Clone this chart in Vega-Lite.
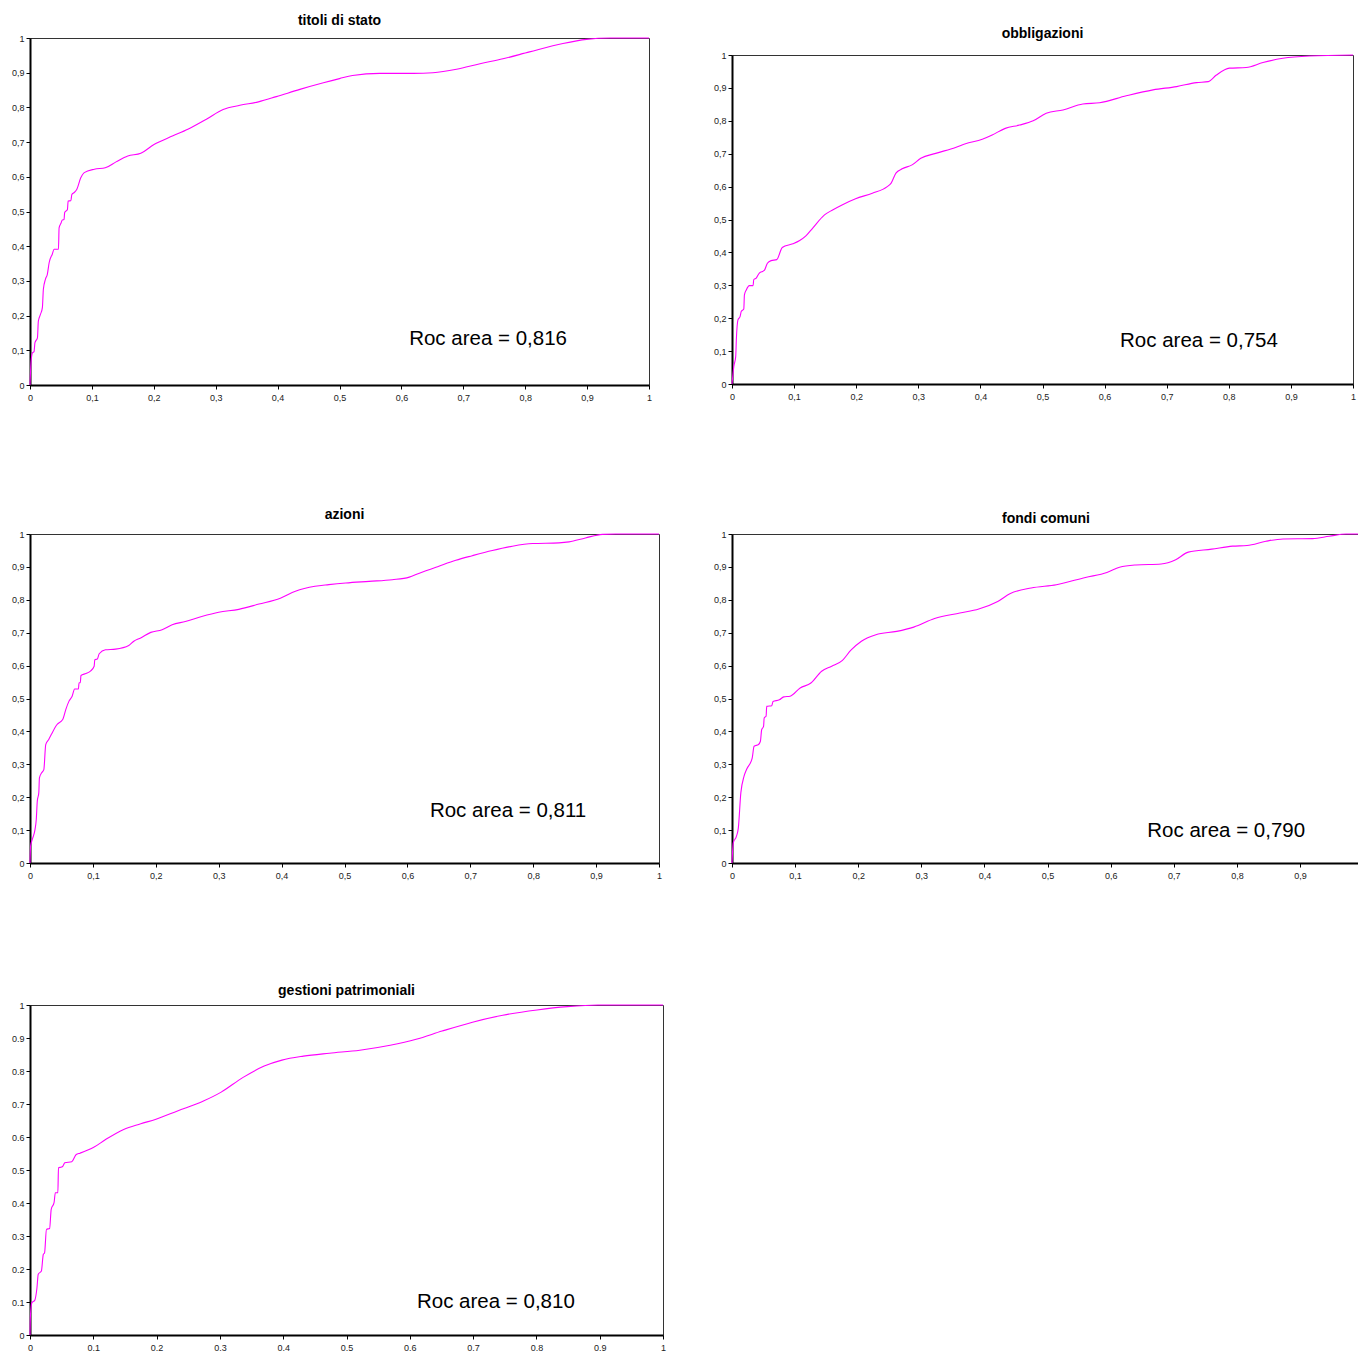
{
  "$schema": "https://vega.github.io/schema/vega-lite/v6.json",
  "padding": {"left": 10, "top": 13, "right": 0, "bottom": 0},
  "background": "white",
  "config": {
    "view": {"stroke": "#333", "strokeWidth": 1},
    "axis": {"domainColor": "#000", "domainWidth": 2, "tickColor": "#000", "tickSize": 4, "tickWidth": 1, "labelFont": "Liberation Sans", "labelFontSize": 9, "labelColor": "#222", "grid": false, "labelFlush": false, "labelOverlap": false, "format": "~g", "title": null},
    "axisX": {"labelPadding": 4},
    "axisY": {"labelPadding": 2},
    "title": {"font": "Liberation Sans", "fontSize": 14, "fontWeight": "bold", "color": "#000", "anchor": "middle", "offset": 6},
    "line": {"color": "#FF00FF", "strokeWidth": 1.1, "interpolate": "monotone", "clip": true},
    "text": {"font": "Liberation Sans", "fontSize": 20.5, "color": "#000", "align": "center", "baseline": "middle"}
  },
  "datasets": {
    "titoli": [
      {"x":0,"y":0},{"x":0.0016,"y":0.064},{"x":0.004,"y":0.093},{"x":0.0065,"y":0.096},{"x":0.008,"y":0.122},{"x":0.012,"y":0.136},{"x":0.0135,"y":0.184},{"x":0.017,"y":0.204},{"x":0.02,"y":0.223},{"x":0.0216,"y":0.276},{"x":0.025,"y":0.305},{"x":0.028,"y":0.319},{"x":0.031,"y":0.353},{"x":0.036,"y":0.377},{"x":0.039,"y":0.391},{"x":0.046,"y":0.391},{"x":0.047,"y":0.453},{"x":0.05,"y":0.466},{"x":0.052,"y":0.475},{"x":0.055,"y":0.477},{"x":0.056,"y":0.497},{"x":0.0605,"y":0.506},{"x":0.0616,"y":0.53},{"x":0.066,"y":0.531},{"x":0.0676,"y":0.549},{"x":0.071,"y":0.554},{"x":0.0757,"y":0.564},{"x":0.082,"y":0.597},{"x":0.0876,"y":0.612},{"x":0.104,"y":0.622},{"x":0.1216,"y":0.626},{"x":0.139,"y":0.643},{"x":0.158,"y":0.66},{"x":0.179,"y":0.668},{"x":0.201,"y":0.694},{"x":0.231,"y":0.718},{"x":0.255,"y":0.737},{"x":0.285,"y":0.766},{"x":0.312,"y":0.794},{"x":0.339,"y":0.806},{"x":0.369,"y":0.816},{"x":0.398,"y":0.831},{"x":0.436,"y":0.852},{"x":0.474,"y":0.871},{"x":0.5,"y":0.883},{"x":0.521,"y":0.892},{"x":0.565,"y":0.898},{"x":0.619,"y":0.898},{"x":0.651,"y":0.9},{"x":0.689,"y":0.91},{"x":0.727,"y":0.926},{"x":0.764,"y":0.94},{"x":0.807,"y":0.96},{"x":0.861,"y":0.984},{"x":0.899,"y":0.996},{"x":0.937,"y":1.0},{"x":1,"y":1}
    ],
    "obbligazioni": [
      {"x":0,"y":0},{"x":0.003,"y":0.054},{"x":0.006,"y":0.084},{"x":0.007,"y":0.135},{"x":0.0096,"y":0.195},{"x":0.013,"y":0.205},{"x":0.015,"y":0.221},{"x":0.019,"y":0.228},{"x":0.02,"y":0.271},{"x":0.023,"y":0.286},{"x":0.028,"y":0.299},{"x":0.034,"y":0.299},{"x":0.035,"y":0.317},{"x":0.039,"y":0.322},{"x":0.044,"y":0.337},{"x":0.052,"y":0.345},{"x":0.057,"y":0.367},{"x":0.063,"y":0.375},{"x":0.072,"y":0.378},{"x":0.081,"y":0.415},{"x":0.098,"y":0.426},{"x":0.109,"y":0.436},{"x":0.119,"y":0.45},{"x":0.13,"y":0.474},{"x":0.149,"y":0.514},{"x":0.162,"y":0.529},{"x":0.178,"y":0.545},{"x":0.199,"y":0.563},{"x":0.226,"y":0.58},{"x":0.25,"y":0.6},{"x":0.256,"y":0.61},{"x":0.264,"y":0.641},{"x":0.274,"y":0.654},{"x":0.29,"y":0.666},{"x":0.304,"y":0.686},{"x":0.328,"y":0.701},{"x":0.36,"y":0.719},{"x":0.376,"y":0.73},{"x":0.403,"y":0.744},{"x":0.419,"y":0.757},{"x":0.44,"y":0.777},{"x":0.463,"y":0.787},{"x":0.485,"y":0.8},{"x":0.506,"y":0.823},{"x":0.533,"y":0.833},{"x":0.565,"y":0.851},{"x":0.592,"y":0.855},{"x":0.635,"y":0.876},{"x":0.678,"y":0.894},{"x":0.716,"y":0.904},{"x":0.748,"y":0.916},{"x":0.767,"y":0.919},{"x":0.78,"y":0.939},{"x":0.801,"y":0.96},{"x":0.828,"y":0.962},{"x":0.855,"y":0.977},{"x":0.887,"y":0.99},{"x":0.93,"y":0.997},{"x":1,"y":1}
    ],
    "azioni": [
      {"x":0,"y":0},{"x":0.001,"y":0.052},{"x":0.0037,"y":0.072},{"x":0.008,"y":0.102},{"x":0.01,"y":0.133},{"x":0.0116,"y":0.188},{"x":0.014,"y":0.214},{"x":0.015,"y":0.259},{"x":0.0185,"y":0.274},{"x":0.022,"y":0.284},{"x":0.025,"y":0.36},{"x":0.03,"y":0.376},{"x":0.034,"y":0.391},{"x":0.043,"y":0.421},{"x":0.052,"y":0.436},{"x":0.057,"y":0.467},{"x":0.062,"y":0.492},{"x":0.067,"y":0.507},{"x":0.071,"y":0.529},{"x":0.077,"y":0.529},{"x":0.078,"y":0.548},{"x":0.08,"y":0.548},{"x":0.081,"y":0.57},{"x":0.089,"y":0.576},{"x":0.096,"y":0.583},{"x":0.102,"y":0.598},{"x":0.103,"y":0.618},{"x":0.107,"y":0.62},{"x":0.11,"y":0.636},{"x":0.12,"y":0.648},{"x":0.136,"y":0.65},{"x":0.157,"y":0.661},{"x":0.165,"y":0.674},{"x":0.176,"y":0.684},{"x":0.192,"y":0.701},{"x":0.21,"y":0.709},{"x":0.226,"y":0.724},{"x":0.247,"y":0.734},{"x":0.273,"y":0.749},{"x":0.3,"y":0.762},{"x":0.332,"y":0.771},{"x":0.364,"y":0.787},{"x":0.398,"y":0.805},{"x":0.422,"y":0.826},{"x":0.453,"y":0.841},{"x":0.475,"y":0.846},{"x":0.502,"y":0.851},{"x":0.539,"y":0.856},{"x":0.576,"y":0.861},{"x":0.603,"y":0.869},{"x":0.618,"y":0.88},{"x":0.65,"y":0.902},{"x":0.677,"y":0.92},{"x":0.703,"y":0.934},{"x":0.735,"y":0.95},{"x":0.767,"y":0.963},{"x":0.799,"y":0.971},{"x":0.841,"y":0.973},{"x":0.857,"y":0.976},{"x":0.883,"y":0.988},{"x":0.91,"y":0.999},{"x":0.931,"y":1},{"x":1,"y":1}
    ],
    "fondi": [
      {"x":0,"y":0},{"x":0.002,"y":0.061},{"x":0.007,"y":0.081},{"x":0.01,"y":0.106},{"x":0.014,"y":0.213},{"x":0.019,"y":0.263},{"x":0.023,"y":0.284},{"x":0.032,"y":0.319},{"x":0.035,"y":0.355},{"x":0.042,"y":0.36},{"x":0.045,"y":0.37},{"x":0.047,"y":0.405},{"x":0.05,"y":0.415},{"x":0.051,"y":0.441},{"x":0.054,"y":0.446},{"x":0.055,"y":0.476},{"x":0.063,"y":0.478},{"x":0.065,"y":0.491},{"x":0.075,"y":0.496},{"x":0.082,"y":0.505},{"x":0.092,"y":0.507},{"x":0.108,"y":0.532},{"x":0.125,"y":0.547},{"x":0.142,"y":0.583},{"x":0.158,"y":0.598},{"x":0.175,"y":0.616},{"x":0.188,"y":0.646},{"x":0.205,"y":0.674},{"x":0.228,"y":0.694},{"x":0.261,"y":0.704},{"x":0.288,"y":0.717},{"x":0.321,"y":0.743},{"x":0.361,"y":0.76},{"x":0.391,"y":0.772},{"x":0.421,"y":0.795},{"x":0.441,"y":0.819},{"x":0.474,"y":0.836},{"x":0.514,"y":0.846},{"x":0.56,"y":0.868},{"x":0.594,"y":0.883},{"x":0.614,"y":0.899},{"x":0.64,"y":0.906},{"x":0.68,"y":0.909},{"x":0.703,"y":0.922},{"x":0.723,"y":0.945},{"x":0.76,"y":0.954},{"x":0.793,"y":0.963},{"x":0.816,"y":0.965},{"x":0.846,"y":0.978},{"x":0.873,"y":0.985},{"x":0.92,"y":0.986},{"x":0.946,"y":0.993},{"x":0.973,"y":1.0},{"x":1,"y":1}
    ],
    "gestioni": [
      {"x":0,"y":0},{"x":0.0007,"y":0.058},{"x":0.003,"y":0.098},{"x":0.0075,"y":0.105},{"x":0.011,"y":0.143},{"x":0.013,"y":0.184},{"x":0.018,"y":0.194},{"x":0.021,"y":0.244},{"x":0.023,"y":0.249},{"x":0.026,"y":0.32},{"x":0.031,"y":0.323},{"x":0.0335,"y":0.381},{"x":0.038,"y":0.401},{"x":0.04,"y":0.431},{"x":0.044,"y":0.431},{"x":0.045,"y":0.507},{"x":0.05,"y":0.509},{"x":0.052,"y":0.512},{"x":0.055,"y":0.522},{"x":0.066,"y":0.525},{"x":0.073,"y":0.547},{"x":0.079,"y":0.551},{"x":0.1,"y":0.568},{"x":0.12,"y":0.593},{"x":0.148,"y":0.623},{"x":0.175,"y":0.64},{"x":0.199,"y":0.654},{"x":0.233,"y":0.679},{"x":0.274,"y":0.709},{"x":0.302,"y":0.736},{"x":0.336,"y":0.78},{"x":0.37,"y":0.815},{"x":0.398,"y":0.833},{"x":0.432,"y":0.845},{"x":0.473,"y":0.854},{"x":0.521,"y":0.863},{"x":0.569,"y":0.878},{"x":0.61,"y":0.896},{"x":0.651,"y":0.921},{"x":0.699,"y":0.948},{"x":0.747,"y":0.969},{"x":0.801,"y":0.985},{"x":0.849,"y":0.995},{"x":0.897,"y":1.0},{"x":1,"y":1}
    ]
  },
  "hconcat": [
    {
      "vconcat": [
        {
          "width": 619, "height": 347,
          "title": {"text": "titoli di stato", "offset": 6},
          "layer": [
            {"data": {"name": "titoli"}, "mark": "line",
             "encoding": {
               "x": {"field": "x", "type": "quantitative", "scale": {"domain": [0, 1], "nice": false}, "axis": {"values": [0,0.1,0.2,0.3,0.4,0.5,0.6,0.7,0.8,0.9,1], "labelExpr": "replace(datum.label, '.', ',')"}},
               "y": {"field": "y", "type": "quantitative", "scale": {"domain": [0, 1], "nice": false}, "axis": {"values": [0,0.1,0.2,0.3,0.4,0.5,0.6,0.7,0.8,0.9,1], "labelExpr": "replace(datum.label, '.', ',')"}}
             }},
            {"data": {"values": [{"label": "Roc area = 0,816"}]}, "mark": "text",
             "encoding": {
               "x": {"datum": 0.74, "type": "quantitative", "axis": {"values": [0,0.1,0.2,0.3,0.4,0.5,0.6,0.7,0.8,0.9,1], "labelExpr": "replace(datum.label, '.', ',')"}},
               "y": {"datum": 0.133, "type": "quantitative", "axis": {"values": [0,0.1,0.2,0.3,0.4,0.5,0.6,0.7,0.8,0.9,1], "labelExpr": "replace(datum.label, '.', ',')"}},
               "text": {"field": "label"}}}
          ]
        },
        {
          "vconcat": [
            {
              "width": 629, "height": 329,
              "title": {"text": "azioni", "offset": 8},
              "layer": [
                {"data": {"name": "azioni"}, "mark": "line",
                 "encoding": {
                   "x": {"field": "x", "type": "quantitative", "scale": {"domain": [0, 1], "nice": false}, "axis": {"values": [0,0.1,0.2,0.3,0.4,0.5,0.6,0.7,0.8,0.9,1], "labelExpr": "replace(datum.label, '.', ',')"}},
                   "y": {"field": "y", "type": "quantitative", "scale": {"domain": [0, 1], "nice": false}, "axis": {"values": [0,0.1,0.2,0.3,0.4,0.5,0.6,0.7,0.8,0.9,1], "labelExpr": "replace(datum.label, '.', ',')"}}
                 }},
                {"data": {"values": [{"label": "Roc area = 0,811"}]}, "mark": "text",
                 "encoding": {
                   "x": {"datum": 0.76, "type": "quantitative", "axis": {"values": [0,0.1,0.2,0.3,0.4,0.5,0.6,0.7,0.8,0.9,1], "labelExpr": "replace(datum.label, '.', ',')"}},
                   "y": {"datum": 0.158, "type": "quantitative", "axis": {"values": [0,0.1,0.2,0.3,0.4,0.5,0.6,0.7,0.8,0.9,1], "labelExpr": "replace(datum.label, '.', ',')"}},
                   "text": {"field": "label"}}}
              ]
            },
            {
              "width": 633, "height": 330,
              "title": {"text": "gestioni patrimoniali", "offset": 3},
              "layer": [
                {"data": {"name": "gestioni"}, "mark": "line",
                 "encoding": {
                   "x": {"field": "x", "type": "quantitative", "scale": {"domain": [0, 1], "nice": false}, "axis": {"values": [0,0.1,0.2,0.3,0.4,0.5,0.6,0.7,0.8,0.9,1]}},
                   "y": {"field": "y", "type": "quantitative", "scale": {"domain": [0, 1], "nice": false}, "axis": {"values": [0,0.1,0.2,0.3,0.4,0.5,0.6,0.7,0.8,0.9,1]}}
                 }},
                {"data": {"values": [{"label": "Roc area = 0,810"}]}, "mark": "text",
                 "encoding": {
                   "x": {"datum": 0.736, "type": "quantitative", "axis": {"values": [0,0.1,0.2,0.3,0.4,0.5,0.6,0.7,0.8,0.9,1]}},
                   "y": {"datum": 0.1, "type": "quantitative", "axis": {"values": [0,0.1,0.2,0.3,0.4,0.5,0.6,0.7,0.8,0.9,1]}},
                   "text": {"field": "label"}}}
              ]
            }
          ],
          "spacing": 102
        }
      ],
      "spacing": 104
    },
    {
      "vconcat": [
        {
          "width": 1, "height": 1,
          "view": {"stroke": null},
          "data": {"values": []},
          "mark": "point",
          "encoding": {}
        },
        {
          "vconcat": [
            {
              "width": 621, "height": 329,
              "title": {"text": "obbligazioni", "offset": 10},
              "layer": [
                {"data": {"name": "obbligazioni"}, "mark": "line",
                 "encoding": {
                   "x": {"field": "x", "type": "quantitative", "scale": {"domain": [0, 1], "nice": false}, "axis": {"values": [0,0.1,0.2,0.3,0.4,0.5,0.6,0.7,0.8,0.9,1], "labelExpr": "replace(datum.label, '.', ',')"}},
                   "y": {"field": "y", "type": "quantitative", "scale": {"domain": [0, 1], "nice": false}, "axis": {"values": [0,0.1,0.2,0.3,0.4,0.5,0.6,0.7,0.8,0.9,1], "labelExpr": "replace(datum.label, '.', ',')"}}
                 }},
                {"data": {"values": [{"label": "Roc area = 0,754"}]}, "mark": "text",
                 "encoding": {
                   "x": {"datum": 0.752, "type": "quantitative", "axis": {"values": [0,0.1,0.2,0.3,0.4,0.5,0.6,0.7,0.8,0.9,1], "labelExpr": "replace(datum.label, '.', ',')"}},
                   "y": {"datum": 0.131, "type": "quantitative", "axis": {"values": [0,0.1,0.2,0.3,0.4,0.5,0.6,0.7,0.8,0.9,1], "labelExpr": "replace(datum.label, '.', ',')"}},
                   "text": {"field": "label"}}}
              ]
            },
            {
              "width": 628, "height": 329,
              "title": {"text": "fondi comuni", "offset": 4},
              "layer": [
                {"data": {"name": "fondi"}, "mark": "line",
                 "encoding": {
                   "x": {"field": "x", "type": "quantitative", "scale": {"domain": [0, 0.995], "nice": false}, "axis": {"values": [0,0.1,0.2,0.3,0.4,0.5,0.6,0.7,0.8,0.9], "labelExpr": "replace(datum.label, '.', ',')"}},
                   "y": {"field": "y", "type": "quantitative", "scale": {"domain": [0, 1], "nice": false}, "axis": {"values": [0,0.1,0.2,0.3,0.4,0.5,0.6,0.7,0.8,0.9,1], "labelExpr": "replace(datum.label, '.', ',')"}}
                 }},
                {"data": {"values": [{"label": "Roc area = 0,790"}]}, "mark": "text",
                 "encoding": {
                   "x": {"datum": 0.783, "type": "quantitative", "axis": {"values": [0,0.1,0.2,0.3,0.4,0.5,0.6,0.7,0.8,0.9], "labelExpr": "replace(datum.label, '.', ',')"}},
                   "y": {"datum": 0.097, "type": "quantitative", "axis": {"values": [0,0.1,0.2,0.3,0.4,0.5,0.6,0.7,0.8,0.9,1], "labelExpr": "replace(datum.label, '.', ',')"}},
                   "text": {"field": "label"}}}
              ]
            }
          ],
          "spacing": 109
        }
      ],
      "spacing": -13
    }
  ],
  "spacing": 45
}
